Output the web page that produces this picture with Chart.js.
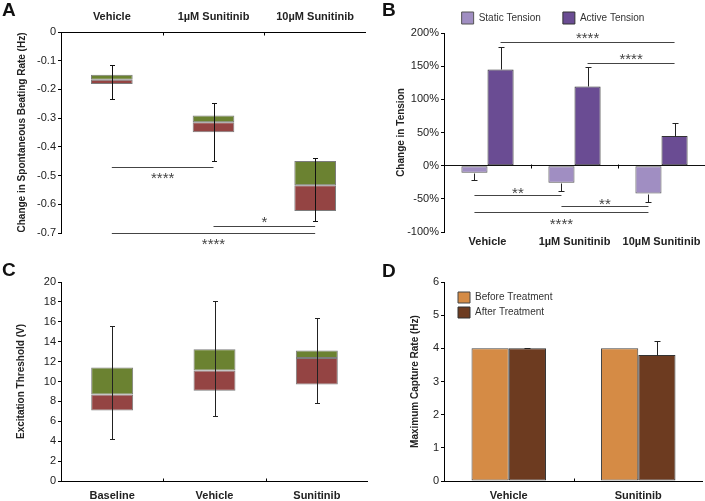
<!DOCTYPE html>
<html>
<head>
<meta charset="utf-8">
<script src="https://cdn.jsdelivr.net/npm/chart.js@4.4.1/dist/chart.umd.min.js"></script>
<style>
  body { margin: 0; background: #fff; }
  #wrap { position: relative; width: 705px; height: 501px; overflow: hidden; }
  canvas { position: absolute; }
  .tag { position: absolute; font: bold 19px 'Liberation Sans', Arial, sans-serif; line-height: 20px; color: #111; }
</style>
</head>
<body>
<div id="wrap">
  <canvas id="chartA" width="366" height="250" style="left:0;top:0"></canvas>
  <canvas id="chartB" width="320" height="250" style="left:385px;top:0"></canvas>
  <canvas id="chartC" width="368" height="251" style="left:0;top:250px"></canvas>
  <canvas id="chartD" width="318" height="251" style="left:385px;top:250px"></canvas>
  <div class="tag" style="left:2px;top:0">A</div>
  <div class="tag" style="left:382px;top:0">B</div>
  <div class="tag" style="left:2px;top:260px">C</div>
  <div class="tag" style="left:382px;top:261px">D</div>
</div>
<script>
// A - spontaneous beating rate
const catsA = ["Vehicle", "1µM Sunitinib", "10µM Sunitinib"];
const greenA = [[-0.149, -0.166], [-0.291, -0.314], [-0.449, -0.534]];
const redA = [[-0.166, -0.181], [-0.314, -0.349], [-0.534, -0.623]];
const whiskTopA = [-0.116, -0.249, -0.44];
const whiskBotA = [-0.233, -0.449, -0.657];
const sigA = [
	{ ds: 0, from: 0, to: 1, y: -0.471, text: "****", ty: -0.498 },
	{ ds: 0, from: 1, to: 2, y: -0.676, text: "*", ty: -0.649 },
	{ ds: 0, from: 0, to: 2, y: -0.7, text: "****", ty: -0.726 },
];

// B - tension
const catsB = ["Vehicle", "1µM Sunitinib", "10µM Sunitinib"];
const staticB = [-10.5, -25.6, -42];
const staticErrB = [-22, -37.7, -55];
const activeB = [145, 119.4, 44.6];
const activeErrB = [178.6, 148.5, 64.7];
const sigB = [
	{ ds: 1, from: 0, to: 2, y: 186, text: "****", ty: 197 },
	{ ds: 1, from: 1, to: 2, y: 155, text: "****", ty: 166 },
	{ ds: 0, from: 0, to: 1, y: -44, text: "**", ty: -36 },
	{ ds: 0, from: 1, to: 2, y: -61, text: "**", ty: -53 },
	{ ds: 0, from: 0, to: 2, y: -70, text: "****", ty: -83 },
];

// C - excitation threshold
const catsC = ["Baseline", "Vehicle", "Sunitinib"];
const greenC = [[8.7, 11.41], [11.11, 13.25], [12.37, 13.11]];
const redC = [[7.09, 8.7], [9.06, 11.11], [9.7, 12.37]];
const whiskHighC = [15.58, 18.13, 16.42];
const whiskLowC = [4.18, 6.49, 7.86];

// D - capture rate
const catsD = ["Vehicle", "Sunitinib"];
const beforeD = [4, 4];
const afterD = [4, 3.8];
const afterErrD = [4, 4.22];

const GREEN = "#6b8231";
const RED = "#944443";
const FONT = "'Liberation Sans', Arial, sans-serif";

Chart.defaults.font.family = FONT;
Chart.defaults.font.size = 11;
Chart.defaults.color = "#222";
Chart.defaults.animation = false;

const crisp = (v) => Math.round(v) + 0.5;

const errorBars = {
	id: "errorBars",
	afterDatasetsDraw(chart, args, opts) {
		const ctx = chart.ctx;
		const y = chart.scales.y;
		(opts.items || []).forEach((item) => {
			const bars = chart.getDatasetMeta(item.ds).data;
			bars.forEach((bar, i) => {
				const x = crisp(bar.x);
				const y1 = crisp(y.getPixelForValue(item.from[i]));
				const y2 = crisp(y.getPixelForValue(item.to[i]));
				const w = item.cap;
				ctx.save();
				ctx.strokeStyle = item.color;
				ctx.lineWidth = 1;
				ctx.beginPath();
				ctx.moveTo(x, y1);
				ctx.lineTo(x, y2);
				if (item.bothCaps) {
					ctx.moveTo(x - w, y1);
					ctx.lineTo(x + w, y1);
				}
				ctx.moveTo(x - w, y2);
				ctx.lineTo(x + w, y2);
				ctx.stroke();
				ctx.restore();
			});
		});
	},
};

const sigLines = {
	id: "sigLines",
	afterDatasetsDraw(chart, args, opts) {
		const ctx = chart.ctx;
		const y = chart.scales.y;
		(opts.items || []).forEach((s) => {
			const bars = chart.getDatasetMeta(s.ds).data;
			const xa = bars[s.from].x;
			const xb = bars[s.to].x;
			const yl = crisp(y.getPixelForValue(s.y));
			ctx.save();
			ctx.strokeStyle = "#444";
			ctx.lineWidth = 1;
			ctx.beginPath();
			ctx.moveTo(xa, yl);
			ctx.lineTo(xb, yl);
			ctx.stroke();
			ctx.fillStyle = "#444";
			ctx.font = "15px " + FONT;
			ctx.textAlign = "center";
			ctx.textBaseline = "alphabetic";
			ctx.fillText(s.text, (xa + xb) / 2, y.getPixelForValue(s.ty) + 8.5);
			ctx.restore();
		});
	},
};

// small marks between categories on the category axis line
const catTicks = {
	id: "catTicks",
	afterDraw(chart, args, opts) {
		if (opts.at === undefined) return;
		const { ctx, scales: { x, y } } = chart;
		const yp = crisp(y.getPixelForValue(opts.at));
		ctx.save();
		ctx.strokeStyle = "#000";
		ctx.lineWidth = 1;
		ctx.beginPath();
		for (let i = 1; i < x.ticks.length; i++) {
			const bx = crisp((x.getPixelForTick(i - 1) + x.getPixelForTick(i)) / 2);
			ctx.moveTo(bx, yp - opts.up);
			ctx.lineTo(bx, yp + opts.down);
		}
		ctx.stroke();
		ctx.restore();
	},
};

const nudgeLegend = {
	id: "nudgeLegend",
	afterLayout(chart, args, opts) {
		const lg = chart.legend;
		if (!lg || (!opts.x && !opts.y)) return;
		const dx = opts.x || 0;
		const dy = opts.y || 0;
		lg.left += dx;
		lg.right += dx;
		lg.top += dy;
		lg.bottom += dy;
	},
};

Chart.register(errorBars, sigLines, catTicks, nudgeLegend);

function xScale(position, height, pad, border) {
	return {
		position: position,
		grid: { display: true, drawOnChartArea: false, drawTicks: false },
		border: { display: border, color: "#000" },
		ticks: { padding: pad, color: "#222", font: { weight: "bold", size: 11 } },
		afterFit: (s) => { s.height = height; },
	};
}

function yScale(min, max, step, title, width, titlePad) {
	return {
		min: min,
		max: max,
		ticks: { stepSize: step, padding: 2, color: "#222" },
		grid: { drawOnChartArea: false, tickLength: 3, color: "#000" },
		border: { color: "#000" },
		title: {
			display: true,
			text: title,
			color: "#222",
			font: { weight: "bold", size: 10 },
			padding: { top: titlePad, bottom: 0 },
		},
		afterFit: (s) => { s.width = width; },
	};
}

function boxSet(data, color) {
	return {
		data: data,
		backgroundColor: color,
		borderColor: "#7c7c7c",
		borderWidth: 1,
		borderSkipped: false,
		grouped: false,
		categoryPercentage: 0.41,
		barPercentage: 1,
	};
}

const chartA = new Chart(document.getElementById("chartA"), {
	type: "bar",
	data: { labels: catsA, datasets: [boxSet(greenA, GREEN), boxSet(redA, RED)] },
	options: {
		responsive: false,
		devicePixelRatio: 1,
		layout: { padding: { top: 0, right: 0, bottom: 17, left: 0 } },
		scales: {
			x: xScale("top", 32, 8, true),
			y: yScale(-0.7, 0, 0.1, "Change in Spontaneous Beating Rate (Hz)", 61, 16),
		},
		plugins: {
			legend: { display: false },
			tooltip: { enabled: false },
			errorBars: { items: [{ ds: 0, from: whiskTopA, to: whiskBotA, bothCaps: true, cap: 2.5, color: "#111" }] },
			sigLines: { items: sigA },
			catTicks: { at: 0, up: 0, down: 3 },
		},
	},
});

const yB = yScale(-100, 200, 50, "Change in Tension", 59, 10);
yB.ticks.callback = (v) => v + "%";
yB.grid = {
	drawOnChartArea: true,
	tickLength: 3,
	tickColor: "#000",
	color: (c) => (c.tick && c.tick.value === 0 ? "#111" : "rgba(0,0,0,0)"),
};

const chartB = new Chart(document.getElementById("chartB"), {
	type: "bar",
	data: {
		labels: catsB,
		datasets: [
			{
				label: "Static Tension",
				data: staticB,
				backgroundColor: "#a08ec2",
				borderColor: "#555",
				borderWidth: 1,
				borderSkipped: false,
				categoryPercentage: 0.6,
				barPercentage: 1,
			},
			{
				label: "Active Tension",
				data: activeB,
				backgroundColor: "#6a4c93",
				borderColor: "#333",
				borderWidth: 1,
				borderSkipped: false,
				categoryPercentage: 0.6,
				barPercentage: 1,
			},
		],
	},
	options: {
		responsive: false,
		devicePixelRatio: 1,
		layout: { padding: { top: -10, right: 0, bottom: 0, left: 0 } },
		scales: {
			x: xScale("bottom", 18, 3, false),
			y: yB,
		},
		plugins: {
			legend: {
				position: "top",
				maxHeight: 43,
				labels: { boxWidth: 12, boxHeight: 12, padding: 22, color: "#333", font: { size: 10 } },
			},
			tooltip: { enabled: false },
			nudgeLegend: { x: 8 },
			errorBars: {
				items: [
					{ ds: 0, from: staticB, to: staticErrB, bothCaps: false, cap: 3, color: "#222" },
					{ ds: 1, from: activeB, to: activeErrB, bothCaps: false, cap: 3, color: "#222" },
				],
			},
			sigLines: { items: sigB },
			catTicks: { at: 0, up: 2, down: 2 },
		},
	},
});

const chartC = new Chart(document.getElementById("chartC"), {
	type: "bar",
	data: { labels: catsC, datasets: [boxSet(greenC, GREEN), boxSet(redC, RED)] },
	options: {
		responsive: false,
		devicePixelRatio: 1,
		layout: { padding: { top: 32, right: 0, bottom: 0, left: 0 } },
		scales: {
			x: xScale("bottom", 20, 8, true),
			y: yScale(0, 20, 2, "Excitation Threshold (V)", 61, 15),
		},
		plugins: {
			legend: { display: false },
			tooltip: { enabled: false },
			errorBars: { items: [{ ds: 0, from: whiskHighC, to: whiskLowC, bothCaps: true, cap: 2.5, color: "#222" }] },
			catTicks: { at: 0, up: 3, down: 0 },
		},
	},
});

const chartD = new Chart(document.getElementById("chartD"), {
	type: "bar",
	data: {
		labels: catsD,
		datasets: [
			{
				label: "Before Treatment",
				data: beforeD,
				backgroundColor: "#d58b45",
				borderColor: "#444",
				borderWidth: 1,
				borderSkipped: false,
				categoryPercentage: 0.575,
				barPercentage: 1,
			},
			{
				label: "After Treatment",
				data: afterD,
				backgroundColor: "#6d3b20",
				borderColor: "#333",
				borderWidth: 1,
				borderSkipped: false,
				categoryPercentage: 0.575,
				barPercentage: 1,
			},
		],
	},
	options: {
		responsive: false,
		devicePixelRatio: 1,
		layout: { padding: { top: 32, right: 0, bottom: 0, left: 0 } },
		scales: {
			x: xScale("bottom", 20, 8, true),
			y: yScale(0, 6, 1, "Maximum Capture Rate (Hz)", 59, 24),
		},
		plugins: {
			legend: {
				position: "chartArea",
				align: "start",
				labels: { boxWidth: 12, boxHeight: 11, padding: 4, color: "#333", font: { size: 10 } },
			},
			tooltip: { enabled: false },
			nudgeLegend: { x: 10, y: 38 },
			errorBars: { items: [{ ds: 1, from: afterD, to: afterErrD, bothCaps: false, cap: 3, color: "#222" }] },
			catTicks: { at: 0, up: 3, down: 0 },
		},
	},
});
</script>
</body>
</html>
